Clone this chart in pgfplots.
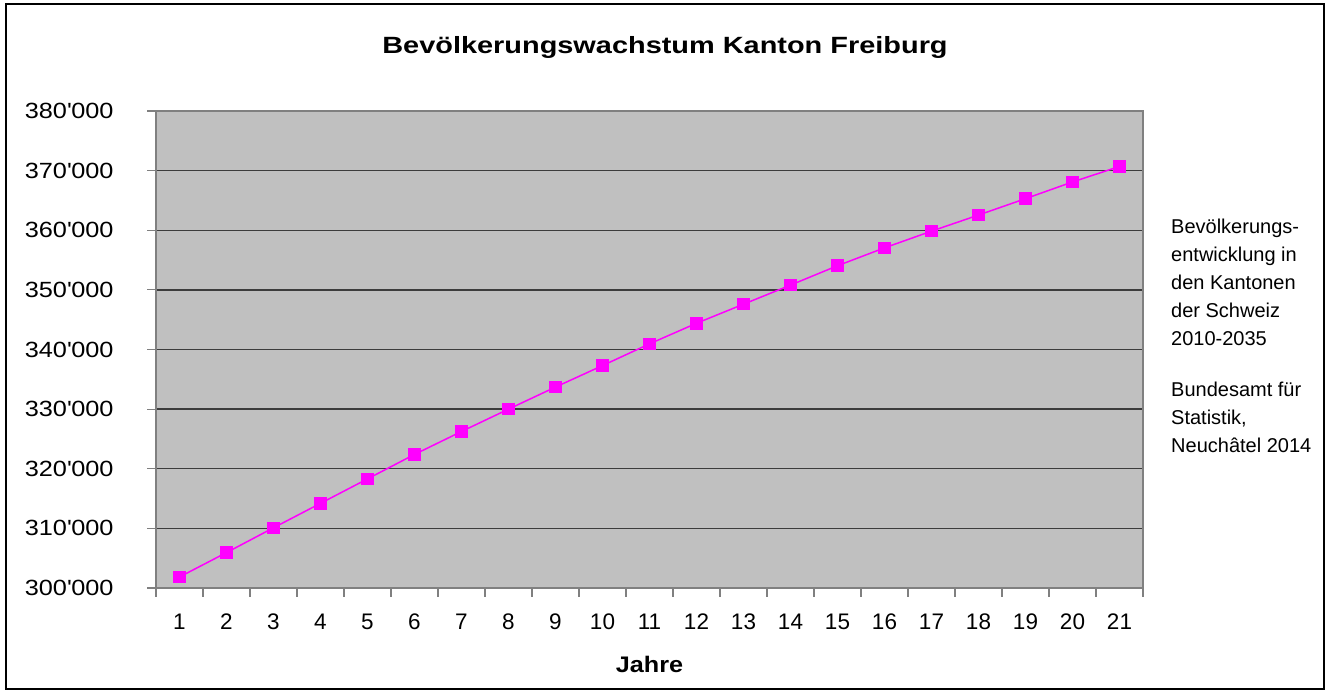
\documentclass[border=0pt]{standalone}
\usepackage{fontspec}
\setmainfont{Liberation Sans}
\newfontfamily\ylabfont[FakeStretch=1.15]{Liberation Sans}
\newfontfamily\titlefont[FakeStretch=1.23]{Liberation Sans}
\newfontfamily\xtitlefont[FakeStretch=1.12]{Liberation Sans}
\usepackage{pgfplots}
\pgfplotsset{compat=1.18}
\definecolor{plotbg}{HTML}{C0C0C0}
\definecolor{gridc}{HTML}{3C3C3C}
\definecolor{axisc}{HTML}{808080}
\definecolor{series}{HTML}{FF00FF}
\newcommand{\q}{\textquotesingle}

\begin{document}
\begin{tikzpicture}
\path (0pt,0pt) rectangle (1330pt,693pt);
\draw[line width=1.5pt, black] (6pt,4pt) rectangle (1324pt,689pt);
\begin{axis}[
  at={(156pt,105pt)}, anchor=south west,
  scale only axis, width=987pt, height=477pt,
  axis background/.style={fill=plotbg},
  xmin=0.5, xmax=21.5, ymin=300000, ymax=380000,
  xtick={1,...,21}, minor xtick={0.5,1.5,...,21.5},
  xticklabels={1,2,3,4,5,6,7,8,9,10,11,12,13,14,15,16,17,18,19,20,21},
  ytick={300000,310000,320000,330000,340000,350000,360000,370000,380000},
  yticklabels={300\q000,310\q000,320\q000,330\q000,340\q000,350\q000,360\q000,370\q000,380\q000},
  xtick pos=bottom, ytick pos=left,
  tick align=outside,
  major x tick style={draw=none},
  major tick length=9pt, minor tick length=9pt,
  every tick/.style={axisc, line width=1.2pt},
  axis line style={axisc, line width=1.6pt},
  ymajorgrids, grid style={gridc, line width=1.3pt},
  scaled y ticks=false,
  xticklabel style={font=\fontsize{22.5}{27}\selectfont, yshift=-13pt},
  yticklabel style={font=\ylabfont\fontsize{22}{26}\selectfont, xshift=-30pt},
  xlabel={Jahre},
  xlabel style={font=\xtitlefont\fontsize{22.5}{26}\selectfont\bfseries, yshift=-20pt},
  clip=false,
]
\addplot[series, line width=1.5pt, mark=square*, mark size=5.5pt,
  mark options={fill=series, draw=series}] table {
x y
1 301850
2 305940
3 310100
4 314200
5 318300
6 322400
7 326250
8 330000
9 333700
10 337300
11 340950
12 344400
13 347600
14 350800
15 354050
16 357050
17 359850
18 362550
19 365300
20 368100
21 370700
};
\end{axis}
\node[font=\titlefont\fontsize{23.5}{28}\selectfont\bfseries, anchor=base] at (665pt,639pt)
  {Bevölkerungswachstum Kanton Freiburg};
\node[font=\fontsize{20}{28}\selectfont, align=left, anchor=north west, inner sep=0pt]
  at (1171pt,474pt) {Bevölkerungs-\\entwicklung in\\den Kantonen\\der Schweiz\\2010-2035\\[23pt]Bundesamt für\\Statistik,\\Neuchâtel 2014};
\end{tikzpicture}
\end{document}
